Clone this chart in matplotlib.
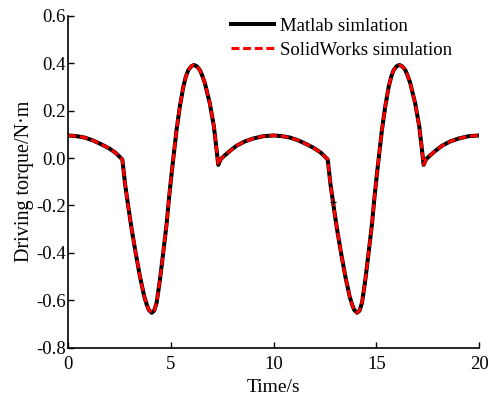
import matplotlib
matplotlib.use("Agg")
import matplotlib.pyplot as plt

time_s = [0, 0.4, 0.8, 1.2, 1.6, 2.0, 2.3, 2.63, 2.76, 2.92, 3.09, 3.28, 3.49, 3.70, 3.82, 3.92,
          4.06, 4.18, 4.30, 4.46, 4.62, 4.79, 4.91, 5.03, 5.15, 5.27, 5.43, 5.60, 5.72, 5.84,
          5.98, 6.12, 6.26, 6.41, 6.53, 6.65, 6.89, 7.09, 7.22, 7.30, 7.42, 7.54, 7.87, 8.2,
          8.6, 9.0, 9.5, 10.0,
          10.4, 10.8, 11.2, 11.6, 12.0, 12.3, 12.63, 12.76, 12.92, 13.09, 13.28, 13.49, 13.70,
          13.82, 13.92, 14.06, 14.18, 14.30, 14.46, 14.62, 14.79, 14.91, 15.03, 15.15, 15.27,
          15.43, 15.60, 15.72, 15.84, 15.98, 16.12, 16.26, 16.41, 16.53, 16.65, 16.89, 17.09,
          17.22, 17.30, 17.42, 17.54, 17.87, 18.2, 18.6, 19.0, 19.5, 20.0]
torque = [0.095, 0.092, 0.086, 0.074, 0.058, 0.040, 0.022, -0.006, -0.107, -0.205, -0.303,
          -0.40, -0.50, -0.584, -0.618, -0.64, -0.652, -0.643, -0.61, -0.514, -0.40, -0.275,
          -0.163, -0.065, 0.027, 0.118, 0.216, 0.30, 0.342, 0.37, 0.386, 0.392, 0.386, 0.37,
          0.345, 0.315, 0.23, 0.132, 0.034, -0.029, -0.005, 0.005, 0.03, 0.052, 0.07, 0.082,
          0.092, 0.095,
          0.092, 0.086, 0.074, 0.058, 0.040, 0.022, -0.006, -0.107, -0.205, -0.303, -0.40,
          -0.50, -0.584, -0.618, -0.64, -0.652, -0.643, -0.61, -0.514, -0.40, -0.275, -0.163,
          -0.065, 0.027, 0.118, 0.216, 0.30, 0.342, 0.37, 0.386, 0.392, 0.386, 0.37, 0.345,
          0.315, 0.23, 0.132, 0.034, -0.029, -0.005, 0.005, 0.03, 0.052, 0.07, 0.082, 0.092,
          0.095]
marker_t = [12.89]
marker_y = [-0.186]

x_ticks = [0, 5, 10, 15, 20]
y_ticks = [-0.8, -0.6, -0.4, -0.2, 0.0, 0.2, 0.4, 0.6]
y_labels = ["-0.8", "-0.6", "-0.4", "-0.2", "0.0", "0.2", "0.4", "0.6"]

plt.rcParams["font.family"] = ["Liberation Serif", "DejaVu Serif"]
plt.rcParams["font.size"] = 13.5

fig = plt.figure(figsize=(4.89, 3.99), dpi=100)
ax = fig.add_axes([0.1397, 0.128, 0.840, 0.833])

ax.plot(time_s, torque, color="black", lw=2.9, label="Matlab simlation", solid_joinstyle="round")
ax.plot(time_s, torque, color="red", lw=2.2, dashes=(2.6, 1.2), label="SolidWorks simulation")
ax.plot(marker_t, marker_y, marker="+", color="black", ms=5, mew=1, ls="none")

ax.set_xlim(0, 20)
ax.set_ylim(-0.8, 0.6)
ax.set_xticks(x_ticks)
ax.set_yticks(y_ticks)
ax.set_yticklabels(y_labels)
ax.spines["top"].set_visible(False)
ax.spines["right"].set_visible(False)
ax.spines["left"].set_linewidth(1.2)
ax.spines["bottom"].set_linewidth(1.2)
ax.tick_params(direction="in", length=4, width=1, labelsize=13.5)
ax.tick_params(axis="x", pad=6)
ax.tick_params(axis="y", pad=2)
ax.set_xlabel("Time/s", labelpad=4, fontsize=14)
ax.set_ylabel("Driving torque/N\u00b7m", labelpad=1, fontsize=14.5)

leg = ax.legend(loc="upper right", bbox_to_anchor=(0.975, 1.044), frameon=False,
                handlelength=2.3, handletextpad=0.3, labelspacing=0.35, fontsize=13.5)

fig.savefig("out.png", dpi=100)
